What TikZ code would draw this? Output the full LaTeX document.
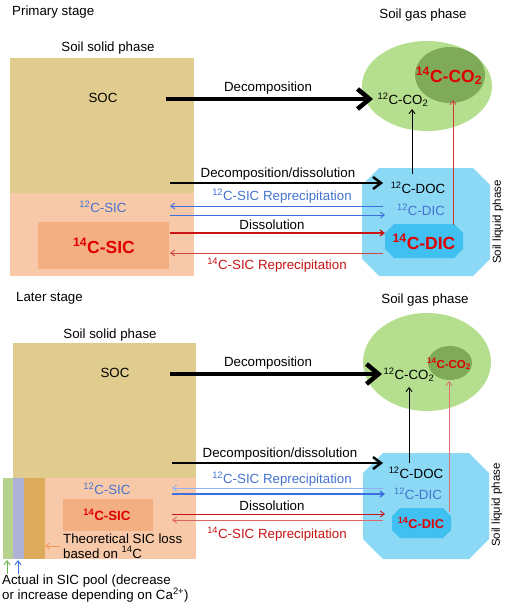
\documentclass[tikz,border=0pt]{standalone}
\usepackage{fontspec}
\setmainfont{Liberation Sans}
\usetikzlibrary{arrows.meta}
\definecolor{socc}{RGB}{224,204,142}
\definecolor{sicc}{RGB}{248,201,168}
\definecolor{sicin}{RGB}{243,174,130}
\definecolor{gasc}{RGB}{181,223,142}
\definecolor{gasin}{RGB}{127,171,88}
\definecolor{liqc}{RGB}{140,217,245}
\definecolor{dicc}{RGB}{63,192,240}
\definecolor{bluet}{RGB}{68,114,206}
\definecolor{bluea}{RGB}{59,111,224}
\definecolor{redt}{RGB}{224,0,0}
\definecolor{reda}{RGB}{200,20,20}
\definecolor{stripg}{RGB}{182,210,141}
\definecolor{stripl}{RGB}{174,178,214}
\definecolor{stripo}{RGB}{221,171,92}
\definecolor{orangea}{RGB}{244,150,90}
\newcommand\octbox[6]{\fill[#6] ({#1+#5},#2) -- ({#3-#5},#2) -- (#3,{#2+#5}) -- (#3,{#4-#5}) -- ({#3-#5},#4) -- ({#1+#5},#4) -- (#1,{#4-#5}) -- (#1,{#2+#5}) -- cycle;}
\newcommand\isot[1]{\textsuperscript{#1}}
\begin{document}
\begin{tikzpicture}[x=1pt,y=-1pt,
  lbl/.style={inner sep=0pt, font=\fontsize{13.3}{16}\selectfont},
  big/.style={inner sep=0pt, text=redt, font=\fontsize{17.5}{20}\selectfont\bfseries},
  thickar/.style={line width=4.5pt, -{Straight Barb[length=12pt,width=20pt]}},
  medar/.style={line width=2.4pt, -{Straight Barb[length=8pt,width=12pt]}},
  thinar/.style={line width=0.9pt, -{Straight Barb[length=4pt,width=6pt]}}]
\useasboundingbox (0,0) rectangle (507,608);

% ===================== PRIMARY STAGE =====================
\node[lbl, anchor=west] (ps) at (12,12) {Primary stage};
\node[lbl] (ssp1) at (108,48) {Soil solid phase};
\fill[socc] (10,58) rectangle (194,193);
\fill[sicc] (10,193) rectangle (194,276);
\fill[sicin] (38,222) rectangle (169,269);
\node[lbl] (soc1) at (103,98) {SOC};
\node[lbl, text=bluet] (c12sic1) at (103,207) {\isot{12}C-SIC};
\node[big] (c14sic1) at (104,246) {\isot{14}C-SIC};

% gas phase
\node[lbl] (sgp1) at (423,15) {Soil gas phase};
\fill[gasc] (427,86) ellipse [x radius=65pt, y radius=45pt];
\fill[gasin] (450,75) ellipse [x radius=35pt, y radius=28pt];
\node[big] (c14co21) at (449,76) {\isot{14}C-CO\textsubscript{2}};
\node[lbl] (c12co21) at (403,100) {\isot{12}C-CO\textsubscript{2}};

% liquid phase
\octbox{362}{168}{490}{276}{17}{liqc}
\octbox{385}{224}{463}{258}{9}{dicc}
\node[lbl] (doc1) at (418,188) {\isot{12}C-DOC};
\node[lbl, text=bluet] (dic1) at (421,210) {\isot{12}C-DIC};
\node[big] (c14dic1) at (424,242) {\isot{14}C-DIC};
\node[lbl, rotate=90, font=\fontsize{11.5}{14}\selectfont] (slp1) at (498,222) {Soil liquid phase};

% arrows
\coordinate (a1s) at (166,99); \coordinate (a1e) at (373,99);
\draw[thickar] (a1s) -- (a1e);
\node[lbl] (dec1) at (268,88) {Decomposition};
\coordinate (a2s) at (170,183); \coordinate (a2e) at (383,183);
\draw[medar] (a2s) -- (a2e);
\node[lbl] (dd1) at (278,174) {Decomposition/dissolution};
\coordinate (a3s) at (383,206); \coordinate (a3e) at (170,206);
\draw[thinar, bluea] (a3s) -- (a3e);
\node[lbl, text=bluet] (rep12a) at (282,196) {\isot{12}C-SIC Reprecipitation};
\coordinate (a4s) at (170,215); \coordinate (a4e) at (385,215);
\draw[thinar, bluea] (a4s) -- (a4e);
\coordinate (a5s) at (170,233); \coordinate (a5e) at (385,233);
\draw[thinar, reda, line width=1.3pt] (a5s) -- (a5e);
\node[lbl] (dis1) at (272,225) {Dissolution};
\coordinate (a6s) at (383,253); \coordinate (a6e) at (170,253);
\draw[thinar, reda!80] (a6s) -- (a6e);
\node[lbl, text=reda] (rep14a) at (277,265) {\isot{14}C-SIC Reprecipitation};
\coordinate (a7s) at (412,174); \coordinate (a7e) at (412,109);
\draw[thinar, black] (a7s) -- (a7e);
\coordinate (a8s) at (453,225); \coordinate (a8e) at (453,100);
\draw[thinar, reda!85, line width=0.7pt] (a8s) -- (a8e);

% ===================== LATER STAGE =====================
\node[lbl, anchor=west] (ls) at (16,298) {Later stage};
\node[lbl] (ssp2) at (110,335) {Soil solid phase};
\fill[socc] (13,343) rectangle (196,478);
\fill[sicc] (13,478) rectangle (196,559);
\fill[stripg] (3,478) rectangle (13,559);
\fill[stripl] (13,478) rectangle (24,559);
\fill[stripo] (24,478) rectangle (45,559);
\fill[sicin] (63,499) rectangle (153,531);
\node[lbl] (soc2) at (115,373) {SOC};
\node[lbl, text=bluet] (c12sic2) at (107,489) {\isot{12}C-SIC};
\node[inner sep=0pt, text=redt, font=\fontsize{13.3}{16}\selectfont\bfseries] (c14sic2) at (107,515) {\isot{14}C-SIC};
\node[lbl, anchor=west, align=left, font=\fontsize{13.3}{14.5}\selectfont] (theo) at (63,546) {Theoretical SIC loss\\based on \isot{14}C};
\coordinate (o1) at (60,546); \coordinate (o2) at (45,546);
\draw[thinar, orangea] (o1) -- (o2);
\node[lbl, anchor=north west, align=left, font=\fontsize{13.3}{14.5}\selectfont] (actual) at (2,575) {Actual in SIC pool (decrease\\or increase depending on Ca\isot{2+})};
\coordinate (g1) at (7,574); \coordinate (g2) at (7,560);
\draw[thinar, stripg!70!green!80!black] (g1) -- (g2);
\coordinate (b1) at (18,574); \coordinate (b2) at (18,560);
\draw[thinar, bluea] (b1) -- (b2);

% gas phase
\node[lbl] (sgp2) at (425,300) {Soil gas phase};
\fill[gasc] (427,362) ellipse [x radius=64pt, y radius=49pt];
\fill[gasin] (450,363) ellipse [x radius=22pt, y radius=17pt];
\node[inner sep=0pt, text=redt, font=\fontsize{11.5}{13}\selectfont\bfseries] (c14co22) at (449,364) {\isot{14}C-CO\textsubscript{2}};
\node[lbl] (c12co22) at (409,375) {\isot{12}C-CO\textsubscript{2}};

% liquid phase
\octbox{363}{453}{489}{559}{20}{liqc}
\octbox{392}{508}{451}{538}{8}{dicc}
\node[lbl] (doc2) at (416,473) {\isot{12}C-DOC};
\node[lbl, text=bluet] (dic2) at (418,494) {\isot{12}C-DIC};
\node[inner sep=0pt, text=redt, font=\fontsize{12.8}{15}\selectfont\bfseries] (c14dic2) at (421,523) {\isot{14}C-DIC};
\node[lbl, rotate=90, font=\fontsize{11.5}{14}\selectfont] (slp2) at (497,505) {Soil liquid phase};

% arrows
\coordinate (b1s) at (170,374); \coordinate (b1e) at (382,374);
\draw[thickar] (b1s) -- (b1e);
\node[lbl] (dec2) at (268,363) {Decomposition};
\coordinate (b2s) at (172,463); \coordinate (b2e) at (383,463);
\draw[medar] (b2s) -- (b2e);
\node[lbl] (dd2) at (280,454) {Decomposition/dissolution};
\coordinate (b3s) at (383,488); \coordinate (b3e) at (172,488);
\draw[thinar, bluea!55] (b3s) -- (b3e);
\node[lbl, text=bluet] (rep12b) at (282,479) {\isot{12}C-SIC Reprecipitation};
\coordinate (b4s) at (172,494); \coordinate (b4e) at (385,494);
\draw[thinar, bluea, line width=1.3pt] (b4s) -- (b4e);
\coordinate (b5s) at (172,514); \coordinate (b5e) at (385,514);
\draw[thinar, reda] (b5s) -- (b5e);
\node[lbl] (dis2) at (272,506) {Dissolution};
\coordinate (b6s) at (383,520); \coordinate (b6e) at (172,520);
\draw[thinar, reda!65] (b6s) -- (b6e);
\node[lbl, text=reda] (rep14b) at (277,534) {\isot{14}C-SIC Reprecipitation};
\coordinate (b7s) at (409,463); \coordinate (b7e) at (409,387);
\draw[thinar, black] (b7s) -- (b7e);
\coordinate (b8s) at (449,512); \coordinate (b8e) at (449,381);
\draw[thinar, reda!60, line width=0.8pt] (b8s) -- (b8e);
\end{tikzpicture}
\end{document}
